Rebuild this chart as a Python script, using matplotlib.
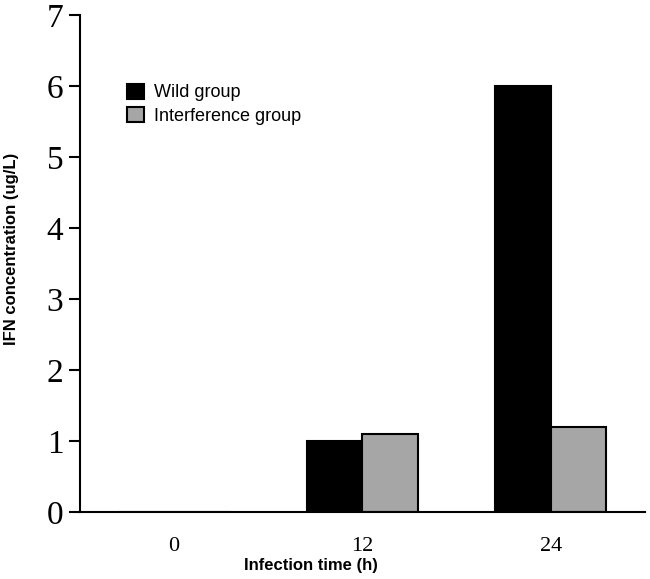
import numpy as np
import matplotlib.pyplot as plt

times = ['0', '12', '24']
wild = [0, 1.0, 6.0]
interference = [0, 1.1, 1.2]

fig = plt.figure(figsize=(6.5, 5.79), dpi=100)
ax = fig.add_axes([0.123, 0.116, 0.869, 0.858])

x = np.arange(len(times))
w = 0.295
ax.bar(x - w / 2, wild, w, color='black', edgecolor='black', linewidth=1.5, label='Wild group')
ax.bar(x + w / 2, interference, w, color='#a6a6a6', edgecolor='black', linewidth=1.5, label='Interference group')

ax.set_xlim(-0.5, 2.5)
ax.set_ylim(0, 7)
ax.set_xticks(x)
ax.set_xticklabels(times, family='Liberation Serif', fontsize=16)
ax.set_yticks(range(8))
ax.set_yticklabels([str(i) for i in range(8)], family='Liberation Serif', fontsize=24)
ax.tick_params(axis='x', length=0, pad=18)
ax.tick_params(axis='y', direction='out', length=8, width=1.5, pad=4)

for s in ['top', 'right']:
    ax.spines[s].set_visible(False)
for s in ['left', 'bottom']:
    ax.spines[s].set_linewidth(1.5)

ax.set_xlabel('Infection time (h)', family='Liberation Sans', fontsize=12, fontweight='bold')
ax.set_ylabel('IFN concentration (ug/L)', family='Liberation Sans', fontsize=12, fontweight='bold')
ax.xaxis.set_label_coords(0.409, -0.092)
ax.yaxis.set_label_coords(-0.108, 0.529)

leg = ax.legend(loc='upper left', bbox_to_anchor=(0.068, 0.88), frameon=False,
                prop={'family': 'Liberation Sans', 'size': 13}, handlelength=0.9,
                handleheight=0.9, handletextpad=0.6, labelspacing=0.3, borderpad=0)

fig.savefig('out.png', dpi=100)
